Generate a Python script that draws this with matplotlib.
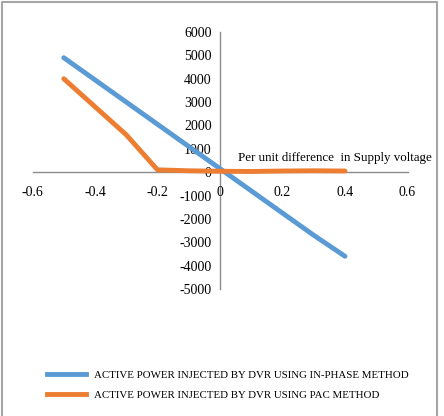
import matplotlib
matplotlib.use('Agg')
import matplotlib.pyplot as plt
from matplotlib.lines import Line2D

# Per unit difference in supply voltage
pu_diff = [-0.5, -0.4, -0.3, -0.2, -0.1, 0.0, 0.1, 0.2, 0.3, 0.4]
# Active power injected by DVR (W)
p_inphase = [4900, 3950, 3000, 2050, 1100, 150, -800, -1750, -2700, -3600]
p_pac = [4000, 2800, 1600, 100, 60, 40, 30, 50, 60, 50]

series_labels = ['ACTIVE POWER INJECTED BY DVR USING IN-PHASE METHOD',
                 'ACTIVE POWER INJECTED BY DVR USING PAC METHOD']
x_ticks = [-0.6, -0.4, -0.2, 0, 0.2, 0.4, 0.6]
y_ticks = list(range(-5000, 7000, 1000))

BLUE = '#5B9BD5'
ORANGE = '#ED7D31'

plt.rcParams['font.family'] = ['Liberation Serif', 'DejaVu Serif']

fig = plt.figure(figsize=(4.44, 4.16), dpi=100)
ax = fig.add_axes([0.0732, 0.3053, 0.8446, 0.6178])

ax.plot(pu_diff, p_inphase, color=BLUE, linewidth=3.5, solid_capstyle='round',
        solid_joinstyle='round', zorder=3)
ax.plot(pu_diff, p_pac, color=ORANGE, linewidth=3.5, solid_capstyle='round',
        solid_joinstyle='round', zorder=4)

ax.set_xlim(-0.6, 0.6)
ax.set_ylim(-5000, 6000)
ax.set_xticks(x_ticks)
ax.set_xticklabels(['0' if v == 0 else f'{v:g}' for v in x_ticks])
ax.set_yticks(y_ticks)
ax.set_yticklabels([str(v) for v in y_ticks])

ax.spines['left'].set_position(('data', 0))
ax.spines['bottom'].set_position(('data', 0))
for s in ['top', 'right']:
    ax.spines[s].set_visible(False)
for s in ['left', 'bottom']:
    ax.spines[s].set_color('#8C8C8C')
    ax.spines[s].set_linewidth(1.0)
    ax.spines[s].set_zorder(1)
ax.tick_params(axis='both', length=0, labelsize=10, colors='black')
ax.tick_params(axis='x', pad=10)
ax.tick_params(axis='y', pad=6)

# axis title sits just right of the y axis, above the x axis
ax.text(0.058, 600, 'Per unit difference  in Supply voltage', ha='left', va='center',
        fontsize=9.4, color='black', clip_on=False)

handles = [Line2D([], [], color=BLUE, linewidth=3.5),
           Line2D([], [], color=ORANGE, linewidth=3.5)]
fig.legend(handles, series_labels, loc='upper left', bbox_to_anchor=(0.105, 0.11),
           frameon=False, fontsize=7.8, handlelength=3.6, handletextpad=0.75,
           labelspacing=0.95, borderaxespad=0, borderpad=0)

# thin gray frame around the chart area (bottom edge cut off as in original)
fig.add_artist(Line2D([0.004, 0.004, 0.985, 0.985], [0.0, 0.995, 0.995, 0.0],
                      transform=fig.transFigure, color='#A6A6A6', linewidth=1.5))

fig.savefig('out.png', dpi=100)
